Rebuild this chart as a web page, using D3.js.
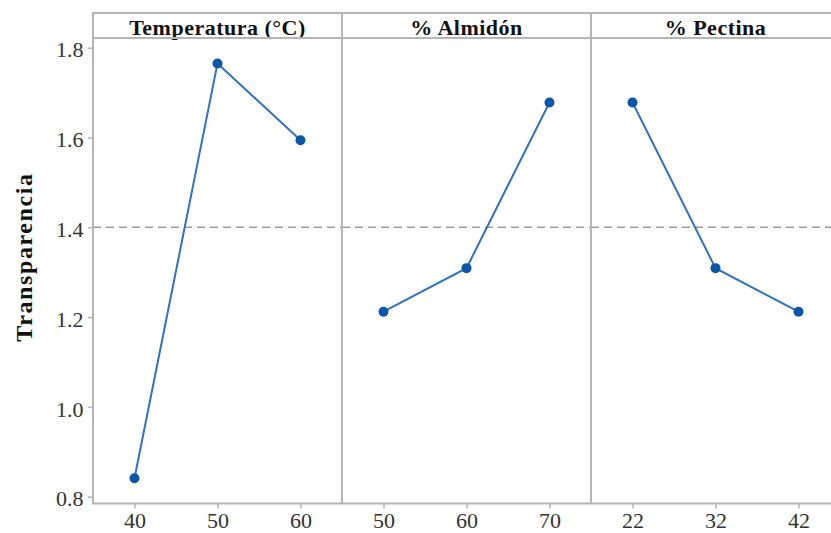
<!DOCTYPE html>
<html>
<head>
<meta charset="utf-8">
<script src="https://cdn.jsdelivr.net/npm/d3@7/dist/d3.min.js"></script>
<style>
  html, body { margin: 0; padding: 0; background: #fff; overflow: hidden; }
  svg { display: block; }
  text { font-family: "Liberation Serif", "Times New Roman", serif; }
</style>
</head>
<body>
<svg id="chart" width="831" height="533"></svg>
<script>
// Main effects means for Transparencia
const panelTitles = ["Temperatura (°C)", "% Almidón", "% Pectina"];
const tempLevels = [40, 50, 60];
const tempMeans = [0.841, 1.765, 1.594];
const almidonLevels = [50, 60, 70];
const almidonMeans = [1.212, 1.309, 1.678];
const pectinaLevels = [22, 32, 42];
const pectinaMeans = [1.678, 1.309, 1.212];
const grandMean = 1.4;
const yTicks = [0.8, 1.0, 1.2, 1.4, 1.6, 1.8];
const yLabel = "Transparencia";

const panels = [
  { title: panelTitles[0], x: tempLevels, y: tempMeans },
  { title: panelTitles[1], x: almidonLevels, y: almidonMeans },
  { title: panelTitles[2], x: pectinaLevels, y: pectinaMeans }
];

const svg = d3.select("#chart");
const frameLeft = 93, frameTop = 13, stripH = 25, panelW = 249, frameBottom = 503.5;
const plotTop = frameTop + stripH;

const frameColor = "#b5b5b5";
const lineColor = "#2f72c4";
const dotColor = "#0a56a8";

const y = d3.scaleLinear().domain([0.8, 1.8]).range([496.7, 47.7]);

// panel strips, reference line, x axes and means
panels.forEach((p, i) => {
  const x0 = frameLeft + i * panelW;
  const lo = d3.min(p.x), hi = d3.max(p.x);
  const x = d3.scaleLinear().domain([lo - 5, hi + 5]).range([x0, x0 + panelW]);
  const g = svg.append("g");

  // strip title
  g.append("text")
    .attr("x", x0 + panelW / 2)
    .attr("y", frameTop + 21.5)
    .attr("text-anchor", "middle")
    .attr("font-size", 22)
    .attr("font-weight", "bold")
    .attr("letter-spacing", 0.5)
    .attr("fill", "#111")
    .text(p.title);

  // reference line at the grand mean
  g.append("line")
    .attr("x1", x0).attr("x2", x0 + panelW)
    .attr("y1", y(grandMean)).attr("y2", y(grandMean))
    .attr("stroke", "#9a9a9a")
    .attr("stroke-width", 1.6)
    .attr("stroke-dasharray", "8,5");

  // x axis
  const ax = g.append("g")
    .attr("transform", `translate(0,${frameBottom})`)
    .call(d3.axisBottom(x).tickValues(p.x).tickSize(5).tickSizeOuter(0).tickPadding(4));
  ax.select(".domain").remove();
  ax.selectAll(".tick line").attr("stroke", frameColor).attr("stroke-width", 1.5);
  ax.selectAll(".tick text")
    .attr("font-size", 22)
    .attr("font-family", "'Liberation Serif', serif")
    .attr("fill", "#333");

  // means line and markers
  const pts = p.x.map((v, k) => [v, p.y[k]]);
  g.append("path")
    .datum(pts)
    .attr("fill", "none")
    .attr("stroke", lineColor)
    .attr("stroke-width", 2)
    .attr("d", d3.line().x(d => x(d[0])).y(d => y(d[1])));
  g.selectAll("circle")
    .data(pts)
    .join("circle")
    .attr("cx", d => x(d[0]))
    .attr("cy", d => y(d[1]))
    .attr("r", 5)
    .attr("fill", dotColor);
});

// frame: outer box, strip separator and panel dividers
const frame = svg.append("g")
  .attr("fill", "none")
  .attr("stroke", frameColor)
  .attr("stroke-width", 2);
frame.append("rect")
  .attr("x", frameLeft).attr("y", frameTop)
  .attr("width", panelW * panels.length).attr("height", frameBottom - frameTop);
frame.append("line")
  .attr("x1", frameLeft).attr("x2", frameLeft + panelW * panels.length)
  .attr("y1", plotTop).attr("y2", plotTop);
for (let i = 1; i < panels.length; i++) {
  frame.append("line")
    .attr("x1", frameLeft + i * panelW).attr("x2", frameLeft + i * panelW)
    .attr("y1", frameTop).attr("y2", frameBottom);
}

// y axis
const ay = svg.append("g")
  .attr("transform", `translate(${frameLeft},0)`)
  .call(d3.axisLeft(y).tickValues(yTicks).tickFormat(d3.format(".1f")).tickSize(5).tickPadding(4.5));
ay.select(".domain").remove();
ay.selectAll(".tick line").attr("stroke", frameColor).attr("stroke-width", 1.5);
ay.selectAll(".tick text")
  .attr("font-size", 22)
  .attr("dy", "0.42em")
  .attr("font-family", "'Liberation Serif', serif")
  .attr("fill", "#333");

// y axis title
svg.append("text")
  .attr("transform", `translate(32,257) rotate(-90)`)
  .attr("text-anchor", "middle")
  .attr("font-size", 24)
  .attr("font-weight", "bold")
  .attr("letter-spacing", 1.6)
  .attr("fill", "#111")
  .text(yLabel);
</script>
</body>
</html>
